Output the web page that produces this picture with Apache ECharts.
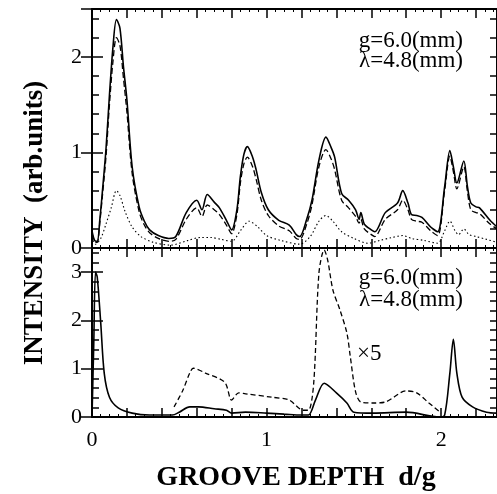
<!DOCTYPE html>
<html>
<head>
<meta charset="utf-8">
<script src="https://cdn.jsdelivr.net/npm/echarts@6/dist/echarts.min.js"></script>
<style>
  html, body { margin: 0; padding: 0; background: #fff; }
  #chart { width: 497px; height: 494px; }
</style>
</head>
<body>
<div id="chart"></div>
<script>
// upper panel: [d/g, intensity]
const upperSolid = [[0,0.18],[0.015,0.08],[0.03,0.07],[0.045,0.3],[0.06,0.6],[0.08,1.03],[0.1,1.6],[0.12,2.1],[0.14,2.39],[0.16,2.3],[0.18,1.9],[0.2,1.55],[0.23,0.85],[0.27,0.43],[0.3,0.28],[0.33,0.19],[0.38,0.13],[0.44,0.1],[0.48,0.12],[0.54,0.37],[0.6,0.5],[0.63,0.4],[0.66,0.56],[0.7,0.48],[0.73,0.42],[0.77,0.29],[0.8,0.19],[0.83,0.4],[0.85,0.75],[0.87,0.98],[0.89,1.06],[0.92,0.95],[0.94,0.82],[0.97,0.58],[1.01,0.4],[1.07,0.29],[1.13,0.24],[1.17,0.14],[1.19,0.12],[1.23,0.3],[1.26,0.5],[1.3,0.92],[1.34,1.16],[1.37,1.05],[1.39,0.95],[1.43,0.57],[1.47,0.5],[1.51,0.4],[1.53,0.3],[1.54,0.37],[1.56,0.25],[1.6,0.19],[1.62,0.17],[1.68,0.37],[1.75,0.47],[1.78,0.6],[1.81,0.47],[1.83,0.35],[1.86,0.34],[1.89,0.32],[1.94,0.22],[1.98,0.17],[2.02,0.64],[2.05,1.02],[2.07,0.85],[2.09,0.68],[2.13,0.91],[2.15,0.65],[2.17,0.47],[2.2,0.43],[2.22,0.42],[2.28,0.29],[2.32,0.22]];
const upperDashed = [[0,0.15],[0.015,0.07],[0.03,0.06],[0.045,0.27],[0.06,0.55],[0.08,0.95],[0.1,1.5],[0.12,1.95],[0.14,2.2],[0.16,2.12],[0.18,1.78],[0.2,1.42],[0.23,0.78],[0.27,0.38],[0.3,0.24],[0.33,0.16],[0.38,0.1],[0.44,0.07],[0.48,0.09],[0.54,0.3],[0.6,0.42],[0.63,0.33],[0.66,0.45],[0.7,0.4],[0.73,0.35],[0.77,0.24],[0.8,0.15],[0.83,0.35],[0.85,0.68],[0.87,0.88],[0.89,0.95],[0.92,0.85],[0.94,0.72],[0.97,0.5],[1.01,0.34],[1.07,0.23],[1.13,0.18],[1.17,0.1],[1.19,0.09],[1.23,0.25],[1.26,0.45],[1.3,0.85],[1.34,1.03],[1.37,0.93],[1.39,0.82],[1.43,0.5],[1.47,0.42],[1.51,0.33],[1.53,0.26],[1.54,0.3],[1.56,0.2],[1.6,0.14],[1.62,0.12],[1.68,0.3],[1.75,0.4],[1.78,0.5],[1.81,0.4],[1.83,0.3],[1.86,0.28],[1.89,0.27],[1.94,0.18],[1.98,0.13],[2.02,0.6],[2.05,0.96],[2.07,0.8],[2.09,0.62],[2.13,0.85],[2.15,0.6],[2.17,0.4],[2.2,0.37],[2.22,0.36],[2.28,0.25],[2.32,0.2]];
const upperDotted = [[0,0.12],[0.02,0.04],[0.05,0.1],[0.08,0.25],[0.11,0.42],[0.14,0.6],[0.16,0.55],[0.19,0.38],[0.23,0.22],[0.28,0.12],[0.35,0.06],[0.45,0.03],[0.55,0.08],[0.62,0.11],[0.68,0.11],[0.74,0.09],[0.8,0.07],[0.85,0.18],[0.9,0.28],[0.95,0.22],[1.0,0.13],[1.08,0.08],[1.19,0.04],[1.25,0.12],[1.3,0.28],[1.34,0.34],[1.38,0.28],[1.43,0.17],[1.5,0.1],[1.58,0.05],[1.65,0.08],[1.72,0.11],[1.78,0.13],[1.83,0.1],[1.9,0.08],[1.98,0.05],[2.02,0.18],[2.05,0.28],[2.08,0.18],[2.1,0.14],[2.13,0.2],[2.16,0.14],[2.2,0.12],[2.26,0.09],[2.32,0.06]];

// lower panel
const lowerSolid = [[0,0],[0.01,1.5],[0.02,3.0],[0.03,2.9],[0.05,1.95],[0.07,0.91],[0.1,0.41],[0.15,0.19],[0.23,0.08],[0.33,0.04],[0.46,0.04],[0.5,0.1],[0.56,0.21],[0.61,0.21],[0.7,0.17],[0.77,0.14],[0.8,0.08],[0.88,0.1],[1.0,0.08],[1.1,0.06],[1.2,0.04],[1.24,0.04],[1.28,0.35],[1.33,0.7],[1.4,0.5],[1.46,0.29],[1.5,0.1],[1.61,0.08],[1.8,0.1],[1.99,0.0],[2.02,0.04],[2.05,0.91],[2.07,1.61],[2.09,0.91],[2.12,0.41],[2.18,0.21],[2.26,0.1],[2.32,0.08]];
const lowerTimes5 = [[0.47,0.21],[0.52,0.55],[0.56,0.91],[0.58,1.01],[0.65,0.91],[0.76,0.72],[0.8,0.35],[0.84,0.5],[0.88,0.48],[1.03,0.41],[1.13,0.35],[1.21,0.14],[1.24,0.14],[1.27,0.7],[1.3,2.98],[1.33,3.46],[1.35,3.25],[1.38,2.63],[1.42,2.22],[1.46,1.74],[1.48,1.24],[1.51,0.52],[1.54,0.31],[1.61,0.29],[1.68,0.31],[1.8,0.54],[1.86,0.5],[1.93,0.29],[2.0,0.08]];

const xMax = 2.32;
const upperMax = 2.5;
const lowerMax = 3.5;

const FONT = "'Liberation Serif', 'DejaVu Serif', serif";

const chart = echarts.init(document.getElementById("chart"));

function intLabel(v) {
  return Math.abs(v - Math.round(v)) < 1e-6 ? String(Math.round(v)) : "";
}

const frame = { show: true, onZero: false, lineStyle: { color: "#000", width: 2 } };

function xAx(grid, pos, labels) {
  return {
    type: "value", gridIndex: grid, position: pos, min: 0, max: xMax, interval: 0.2,
    axisLine: frame,
    axisTick: { show: true, inside: true, length: 9, lineStyle: { color: "#000", width: 1.5 } },
    minorTick: { show: true, splitNumber: 4, length: 3, lineStyle: { color: "#000", width: 1 } },
    axisLabel: labels ? { show: true, formatter: intLabel, color: "#000", fontFamily: FONT, fontSize: 22, margin: 12, showMaxLabel: false } : { show: false },
    splitLine: { show: false }
  };
}

function yAx(grid, pos, max, labels, interval, len) {
  return {
    type: "value", gridIndex: grid, position: pos, min: 0, max: max, interval: interval,
    axisLine: interval === 1 ? { show: false } : frame,
    axisTick: { show: true, inside: true, length: len, lineStyle: { color: "#000", width: 1.5 } },
    axisLabel: labels ? { show: true, formatter: intLabel, color: "#000", fontFamily: FONT, fontSize: 22, margin: 10, showMaxLabel: false } : { show: false },
    splitLine: { show: false }
  };
}

const option = {
  backgroundColor: "#fff",
  animation: false,
  grid: [
    { left: 92, top: 9, width: 405, height: 239 },
    { left: 92, top: 248, width: 405, height: 169 }
  ],
  xAxis: [
    xAx(0, "bottom", false),
    xAx(0, "top", false),
    xAx(1, "bottom", true),
    xAx(1, "top", false)
  ],
  yAxis: [
    yAx(0, "left", upperMax, true, 0.2, 7),
    yAx(0, "right", upperMax, false, 0.2, 7),
    yAx(1, "left", lowerMax, true, 0.2, 7),
    yAx(1, "right", lowerMax, false, 0.2, 7),
    yAx(0, "left", upperMax, false, 1, 11),
    yAx(0, "right", upperMax, false, 1, 11),
    yAx(1, "left", lowerMax, false, 1, 11),
    yAx(1, "right", lowerMax, false, 1, 11)
  ],
  series: [
    { type: "line", xAxisIndex: 0, yAxisIndex: 0, data: upperSolid, showSymbol: false, smooth: 0.3,
      lineStyle: { color: "#000", width: 1.6 } },
    { type: "line", xAxisIndex: 0, yAxisIndex: 0, data: upperDashed, showSymbol: false, smooth: 0.3,
      lineStyle: { color: "#000", width: 1.3, type: [6, 3] } },
    { type: "line", xAxisIndex: 0, yAxisIndex: 0, data: upperDotted, showSymbol: false, smooth: 0.3,
      lineStyle: { color: "#000", width: 1.1, type: [1.5, 2.5] } },
    { type: "line", xAxisIndex: 2, yAxisIndex: 2, data: lowerSolid, showSymbol: false, smooth: 0.3,
      lineStyle: { color: "#000", width: 1.6 } },
    { type: "line", xAxisIndex: 2, yAxisIndex: 2, data: lowerTimes5, showSymbol: false, smooth: 0.3,
      lineStyle: { color: "#000", width: 1.3, type: [5, 3] } }
  ],
  graphic: [
    { type: "text", x: 35, y: 223, rotation: Math.PI / 2,
      style: { text: "INTENSITY  (arb.units)", font: "bold 27px " + FONT, fill: "#000", align: "center", verticalAlign: "middle" } },
    { type: "text", x: 296, y: 478,
      style: { text: "GROOVE DEPTH  d/g", font: "bold 28px " + FONT, fill: "#000", align: "center", verticalAlign: "middle" } },
    { type: "text", x: 463, y: 41,
      style: { text: "g=6.0(mm)", font: "23px " + FONT, fill: "#000", align: "right", verticalAlign: "middle" } },
    { type: "text", x: 463, y: 61,
      style: { text: "λ=4.8(mm)", font: "23px " + FONT, fill: "#000", align: "right", verticalAlign: "middle" } },
    { type: "text", x: 463, y: 278,
      style: { text: "g=6.0(mm)", font: "23px " + FONT, fill: "#000", align: "right", verticalAlign: "middle" } },
    { type: "text", x: 463, y: 300,
      style: { text: "λ=4.8(mm)", font: "23px " + FONT, fill: "#000", align: "right", verticalAlign: "middle" } },
    { type: "text", x: 357, y: 354,
      style: { text: "×5", font: "23px " + FONT, fill: "#000", align: "left", verticalAlign: "middle" } }
  ]
};

chart.setOption(option);
</script>
</body>
</html>
